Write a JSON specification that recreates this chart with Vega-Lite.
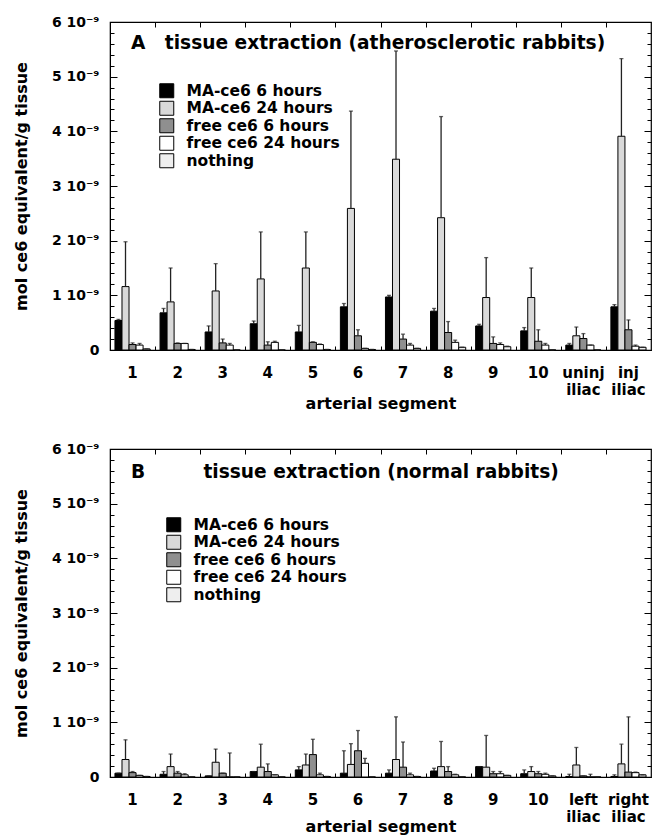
{
  "$schema": "https://vega.github.io/schema/vega-lite/v6.json",
  "padding": {"left": 12, "top": 14, "right": 5, "bottom": 5},
  "background": "white",
  "config": {
    "font": "DejaVu Sans",
    "view": {"stroke": "black", "strokeWidth": 1.2},
    "axis": {"grid": false, "labelColor": "black", "titleColor": "black", "domainColor": "black", "tickColor": "black", "labelFontWeight": "bold", "titleFontWeight": "bold", "labelFont": "DejaVu Sans", "titleFont": "DejaVu Sans"},
    "legend": {"labelFont": "DejaVu Sans"}
  },
  "datasets": {
    "A": [
      {"seg": "1", "series": "MA-ce6 6 hours", "v": 0.54e-9, "top": 0.56e-9},
      {"seg": "1", "series": "MA-ce6 24 hours", "v": 1.16e-9, "top": 1.98e-9},
      {"seg": "1", "series": "free ce6 6 hours", "v": 0.10e-9, "top": 0.13e-9},
      {"seg": "1", "series": "free ce6 24 hours", "v": 0.09e-9, "top": 0.12e-9},
      {"seg": "1", "series": "nothing", "v": 0.02e-9, "top": 0.02e-9},
      {"seg": "2", "series": "MA-ce6 6 hours", "v": 0.68e-9, "top": 0.76e-9},
      {"seg": "2", "series": "MA-ce6 24 hours", "v": 0.88e-9, "top": 1.50e-9},
      {"seg": "2", "series": "free ce6 6 hours", "v": 0.12e-9, "top": 0.13e-9},
      {"seg": "2", "series": "free ce6 24 hours", "v": 0.12e-9, "top": 0.12e-9},
      {"seg": "2", "series": "nothing", "v": 0.01e-9, "top": 0.01e-9},
      {"seg": "3", "series": "MA-ce6 6 hours", "v": 0.33e-9, "top": 0.44e-9},
      {"seg": "3", "series": "MA-ce6 24 hours", "v": 1.08e-9, "top": 1.58e-9},
      {"seg": "3", "series": "free ce6 6 hours", "v": 0.13e-9, "top": 0.20e-9},
      {"seg": "3", "series": "free ce6 24 hours", "v": 0.09e-9, "top": 0.12e-9},
      {"seg": "3", "series": "nothing", "v": 0.0, "top": 0.0},
      {"seg": "4", "series": "MA-ce6 6 hours", "v": 0.48e-9, "top": 0.53e-9},
      {"seg": "4", "series": "MA-ce6 24 hours", "v": 1.30e-9, "top": 2.16e-9},
      {"seg": "4", "series": "free ce6 6 hours", "v": 0.09e-9, "top": 0.15e-9},
      {"seg": "4", "series": "free ce6 24 hours", "v": 0.14e-9, "top": 0.16e-9},
      {"seg": "4", "series": "nothing", "v": 0.0, "top": 0.0},
      {"seg": "5", "series": "MA-ce6 6 hours", "v": 0.33e-9, "top": 0.45e-9},
      {"seg": "5", "series": "MA-ce6 24 hours", "v": 1.50e-9, "top": 2.16e-9},
      {"seg": "5", "series": "free ce6 6 hours", "v": 0.14e-9, "top": 0.15e-9},
      {"seg": "5", "series": "free ce6 24 hours", "v": 0.10e-9, "top": 0.11e-9},
      {"seg": "5", "series": "nothing", "v": 0.01e-9, "top": 0.01e-9},
      {"seg": "6", "series": "MA-ce6 6 hours", "v": 0.79e-9, "top": 0.85e-9},
      {"seg": "6", "series": "MA-ce6 24 hours", "v": 2.59e-9, "top": 4.37e-9},
      {"seg": "6", "series": "free ce6 6 hours", "v": 0.26e-9, "top": 0.37e-9},
      {"seg": "6", "series": "free ce6 24 hours", "v": 0.03e-9, "top": 0.03e-9},
      {"seg": "6", "series": "nothing", "v": 0.01e-9, "top": 0.01e-9},
      {"seg": "7", "series": "MA-ce6 6 hours", "v": 0.97e-9, "top": 1.00e-9},
      {"seg": "7", "series": "MA-ce6 24 hours", "v": 3.49e-9, "top": 5.47e-9},
      {"seg": "7", "series": "free ce6 6 hours", "v": 0.20e-9, "top": 0.29e-9},
      {"seg": "7", "series": "free ce6 24 hours", "v": 0.09e-9, "top": 0.12e-9},
      {"seg": "7", "series": "nothing", "v": 0.03e-9, "top": 0.03e-9},
      {"seg": "8", "series": "MA-ce6 6 hours", "v": 0.71e-9, "top": 0.76e-9},
      {"seg": "8", "series": "MA-ce6 24 hours", "v": 2.42e-9, "top": 4.27e-9},
      {"seg": "8", "series": "free ce6 6 hours", "v": 0.32e-9, "top": 0.52e-9},
      {"seg": "8", "series": "free ce6 24 hours", "v": 0.14e-9, "top": 0.18e-9},
      {"seg": "8", "series": "nothing", "v": 0.05e-9, "top": 0.05e-9},
      {"seg": "9", "series": "MA-ce6 6 hours", "v": 0.44e-9, "top": 0.47e-9},
      {"seg": "9", "series": "MA-ce6 24 hours", "v": 0.96e-9, "top": 1.69e-9},
      {"seg": "9", "series": "free ce6 6 hours", "v": 0.12e-9, "top": 0.24e-9},
      {"seg": "9", "series": "free ce6 24 hours", "v": 0.10e-9, "top": 0.13e-9},
      {"seg": "9", "series": "nothing", "v": 0.06e-9, "top": 0.07e-9},
      {"seg": "10", "series": "MA-ce6 6 hours", "v": 0.35e-9, "top": 0.41e-9},
      {"seg": "10", "series": "MA-ce6 24 hours", "v": 0.96e-9, "top": 1.50e-9},
      {"seg": "10", "series": "free ce6 6 hours", "v": 0.16e-9, "top": 0.37e-9},
      {"seg": "10", "series": "free ce6 24 hours", "v": 0.09e-9, "top": 0.12e-9},
      {"seg": "10", "series": "nothing", "v": 0.0, "top": 0.0},
      {"seg": "uninj iliac", "series": "MA-ce6 6 hours", "v": 0.09e-9, "top": 0.12e-9},
      {"seg": "uninj iliac", "series": "MA-ce6 24 hours", "v": 0.26e-9, "top": 0.42e-9},
      {"seg": "uninj iliac", "series": "free ce6 6 hours", "v": 0.21e-9, "top": 0.30e-9},
      {"seg": "uninj iliac", "series": "free ce6 24 hours", "v": 0.09e-9, "top": 0.09e-9},
      {"seg": "uninj iliac", "series": "nothing", "v": 0.0, "top": 0.0},
      {"seg": "inj iliac", "series": "MA-ce6 6 hours", "v": 0.79e-9, "top": 0.83e-9},
      {"seg": "inj iliac", "series": "MA-ce6 24 hours", "v": 3.91e-9, "top": 5.33e-9},
      {"seg": "inj iliac", "series": "free ce6 6 hours", "v": 0.37e-9, "top": 0.55e-9},
      {"seg": "inj iliac", "series": "free ce6 24 hours", "v": 0.07e-9, "top": 0.09e-9},
      {"seg": "inj iliac", "series": "nothing", "v": 0.05e-9, "top": 0.05e-9}
    ],
    "B": [
      {"seg": "1", "series": "MA-ce6 6 hours", "v": 0.07e-9, "top": 0.07e-9},
      {"seg": "1", "series": "MA-ce6 24 hours", "v": 0.32e-9, "top": 0.68e-9},
      {"seg": "1", "series": "free ce6 6 hours", "v": 0.08e-9, "top": 0.10e-9},
      {"seg": "1", "series": "free ce6 24 hours", "v": 0.03e-9, "top": 0.03e-9},
      {"seg": "1", "series": "nothing", "v": 0.01e-9, "top": 0.01e-9},
      {"seg": "2", "series": "MA-ce6 6 hours", "v": 0.05e-9, "top": 0.10e-9},
      {"seg": "2", "series": "MA-ce6 24 hours", "v": 0.19e-9, "top": 0.42e-9},
      {"seg": "2", "series": "free ce6 6 hours", "v": 0.07e-9, "top": 0.10e-9},
      {"seg": "2", "series": "free ce6 24 hours", "v": 0.04e-9, "top": 0.06e-9},
      {"seg": "2", "series": "nothing", "v": 0.0, "top": 0.0},
      {"seg": "3", "series": "MA-ce6 6 hours", "v": 0.02e-9, "top": 0.02e-9},
      {"seg": "3", "series": "MA-ce6 24 hours", "v": 0.27e-9, "top": 0.51e-9},
      {"seg": "3", "series": "free ce6 6 hours", "v": 0.07e-9, "top": 0.07e-9},
      {"seg": "3", "series": "free ce6 24 hours", "v": 0.0, "top": 0.44e-9},
      {"seg": "3", "series": "nothing", "v": 0.0, "top": 0.0},
      {"seg": "4", "series": "MA-ce6 6 hours", "v": 0.10e-9, "top": 0.10e-9},
      {"seg": "4", "series": "MA-ce6 24 hours", "v": 0.18e-9, "top": 0.60e-9},
      {"seg": "4", "series": "free ce6 6 hours", "v": 0.10e-9, "top": 0.24e-9},
      {"seg": "4", "series": "free ce6 24 hours", "v": 0.04e-9, "top": 0.04e-9},
      {"seg": "4", "series": "nothing", "v": 0.0, "top": 0.0},
      {"seg": "5", "series": "MA-ce6 6 hours", "v": 0.13e-9, "top": 0.19e-9},
      {"seg": "5", "series": "MA-ce6 24 hours", "v": 0.22e-9, "top": 0.42e-9},
      {"seg": "5", "series": "free ce6 6 hours", "v": 0.41e-9, "top": 0.69e-9},
      {"seg": "5", "series": "free ce6 24 hours", "v": 0.04e-9, "top": 0.07e-9},
      {"seg": "5", "series": "nothing", "v": 0.01e-9, "top": 0.01e-9},
      {"seg": "6", "series": "MA-ce6 6 hours", "v": 0.07e-9, "top": 0.48e-9},
      {"seg": "6", "series": "MA-ce6 24 hours", "v": 0.23e-9, "top": 0.61e-9},
      {"seg": "6", "series": "free ce6 6 hours", "v": 0.48e-9, "top": 0.85e-9},
      {"seg": "6", "series": "free ce6 24 hours", "v": 0.25e-9, "top": 0.34e-9},
      {"seg": "6", "series": "nothing", "v": 0.0, "top": 0.0},
      {"seg": "7", "series": "MA-ce6 6 hours", "v": 0.07e-9, "top": 0.13e-9},
      {"seg": "7", "series": "MA-ce6 24 hours", "v": 0.32e-9, "top": 1.10e-9},
      {"seg": "7", "series": "free ce6 6 hours", "v": 0.18e-9, "top": 0.64e-9},
      {"seg": "7", "series": "free ce6 24 hours", "v": 0.04e-9, "top": 0.07e-9},
      {"seg": "7", "series": "nothing", "v": 0.01e-9, "top": 0.01e-9},
      {"seg": "8", "series": "MA-ce6 6 hours", "v": 0.11e-9, "top": 0.16e-9},
      {"seg": "8", "series": "MA-ce6 24 hours", "v": 0.19e-9, "top": 0.65e-9},
      {"seg": "8", "series": "free ce6 6 hours", "v": 0.10e-9, "top": 0.19e-9},
      {"seg": "8", "series": "free ce6 24 hours", "v": 0.04e-9, "top": 0.05e-9},
      {"seg": "8", "series": "nothing", "v": 0.0, "top": 0.0},
      {"seg": "9", "series": "MA-ce6 6 hours", "v": 0.19e-9, "top": 0.19e-9},
      {"seg": "9", "series": "MA-ce6 24 hours", "v": 0.18e-9, "top": 0.76e-9},
      {"seg": "9", "series": "free ce6 6 hours", "v": 0.06e-9, "top": 0.10e-9},
      {"seg": "9", "series": "free ce6 24 hours", "v": 0.06e-9, "top": 0.10e-9},
      {"seg": "9", "series": "nothing", "v": 0.03e-9, "top": 0.03e-9},
      {"seg": "10", "series": "MA-ce6 6 hours", "v": 0.06e-9, "top": 0.13e-9},
      {"seg": "10", "series": "MA-ce6 24 hours", "v": 0.10e-9, "top": 0.19e-9},
      {"seg": "10", "series": "free ce6 6 hours", "v": 0.06e-9, "top": 0.10e-9},
      {"seg": "10", "series": "free ce6 24 hours", "v": 0.05e-9, "top": 0.07e-9},
      {"seg": "10", "series": "nothing", "v": 0.02e-9, "top": 0.02e-9},
      {"seg": "left iliac", "series": "MA-ce6 6 hours", "v": 0.01e-9, "top": 0.05e-9},
      {"seg": "left iliac", "series": "MA-ce6 24 hours", "v": 0.22e-9, "top": 0.54e-9},
      {"seg": "left iliac", "series": "free ce6 6 hours", "v": 0.02e-9, "top": 0.02e-9},
      {"seg": "left iliac", "series": "free ce6 24 hours", "v": 0.0, "top": 0.05e-9},
      {"seg": "left iliac", "series": "nothing", "v": 0.0, "top": 0.0},
      {"seg": "right iliac", "series": "MA-ce6 6 hours", "v": 0.01e-9, "top": 0.04e-9},
      {"seg": "right iliac", "series": "MA-ce6 24 hours", "v": 0.24e-9, "top": 0.60e-9},
      {"seg": "right iliac", "series": "free ce6 6 hours", "v": 0.09e-9, "top": 1.10e-9},
      {"seg": "right iliac", "series": "free ce6 24 hours", "v": 0.08e-9, "top": 0.09e-9},
      {"seg": "right iliac", "series": "nothing", "v": 0.04e-9, "top": 0.04e-9}
    ]
  },
  "vconcat": [
    {
      "width": 541,
      "height": 328,
      "data": {"name": "A"},
      "title": {"text": "A\u00a0\u00a0\u00a0tissue extraction (atherosclerotic rabbits)", "anchor": "start", "frame": "group", "dx": 21, "offset": -53, "baseline": "alphabetic", "fontSize": 18.6, "fontWeight": "bold", "font": "DejaVu Sans", "color": "black"},
      "layer": [
        {
          "mark": {"type": "bar", "stroke": "black", "strokeWidth": 1},
          "encoding": {
            "x": {"field": "seg", "type": "nominal", "sort": ["1","2","3","4","5","6","7","8","9","10","uninj iliac","inj iliac"], "scale": {"paddingInner": 0.22, "paddingOuter": 0.11}, "axis": {"orient": "bottom", "title": "arterial segment", "titleFontSize": 16, "titleY": 58, "titleBaseline": "alphabetic", "labelFontSize": 15, "labelAngle": 0, "ticks": false, "labelPadding": 15, "labelExpr": "split(datum.label, ' ')", "labelLineHeight": 17}},
            "xOffset": {"field": "series", "type": "nominal", "sort": ["MA-ce6 6 hours","MA-ce6 24 hours","free ce6 6 hours","free ce6 24 hours","nothing"], "scale": {"paddingInner": 0, "paddingOuter": 0}},
            "y": {"field": "v", "type": "quantitative", "scale": {"domain": [0, 6e-9], "nice": false, "zero": true}, "axis": {"orient": "left", "title": "mol ce6 equivalent/g tissue", "titleFontSize": 16, "titleX": -84, "titleBaseline": "alphabetic", "labelFontSize": 14, "labelPadding": 18, "values": [0,0.2e-9,0.4e-9,0.6e-9,0.8e-9,1e-9,1.2e-9,1.4e-9,1.6e-9,1.8e-9,2e-9,2.2e-9,2.4e-9,2.6e-9,2.8e-9,3e-9,3.2e-9,3.4e-9,3.6e-9,3.8e-9,4e-9,4.2e-9,4.4e-9,4.6e-9,4.8e-9,5e-9,5.2e-9,5.4e-9,5.6e-9,5.8e-9,6e-9], "labelExpr": "datum.value < 1e-12 ? '0' : (abs(datum.value*1e9 - round(datum.value*1e9)) < 1e-6 ? format(round(datum.value*1e9), 'd') + ' 10⁻⁹' : '')", "tickSize": {"condition": {"test": "abs(datum.value*1e9 - round(datum.value*1e9)) < 1e-6", "value": -7}, "value": -4}}},
            "fill": {"field": "series", "type": "nominal", "scale": {"domain": ["MA-ce6 6 hours","MA-ce6 24 hours","free ce6 6 hours","free ce6 24 hours","nothing"], "range": ["black","#d9d9d9","#8f8f8f","white","#eeeeee"]}, "legend": {"orient": "none", "legendX": 49, "legendY": 61, "title": null, "symbolType": "square", "symbolSize": 196, "symbolStrokeColor": "black", "symbolStrokeWidth": 1, "symbolOpacity": 1, "labelFontSize": 15.5, "labelFontWeight": "bold", "labelColor": "black", "labelOffset": 12, "rowPadding": -1.5, "padding": 0}}
          }
        },
        {
          "mark": {"type": "rule", "stroke": "#222", "strokeWidth": 1.3},
          "encoding": {
            "x": {"field": "seg", "type": "nominal", "sort": ["1","2","3","4","5","6","7","8","9","10","uninj iliac","inj iliac"], "axis": {"orient": "bottom", "title": null, "labels": false, "domain": false, "tickSize": -4, "tickOffset": -22.5, "minExtent": 0, "maxExtent": 0, "labelPadding": 0}},
            "xOffset": {"field": "series", "type": "nominal", "sort": ["MA-ce6 6 hours","MA-ce6 24 hours","free ce6 6 hours","free ce6 24 hours","nothing"]},
            "y": {"field": "v", "type": "quantitative", "axis": {"orient": "right", "title": null, "labels": false, "domain": false, "values": [0,0.2e-9,0.4e-9,0.6e-9,0.8e-9,1e-9,1.2e-9,1.4e-9,1.6e-9,1.8e-9,2e-9,2.2e-9,2.4e-9,2.6e-9,2.8e-9,3e-9,3.2e-9,3.4e-9,3.6e-9,3.8e-9,4e-9,4.2e-9,4.4e-9,4.6e-9,4.8e-9,5e-9,5.2e-9,5.4e-9,5.6e-9,5.8e-9,6e-9], "tickSize": {"condition": {"test": "abs(datum.value*1e9 - round(datum.value*1e9)) < 1e-6", "value": -7}, "value": -4}}},
            "y2": {"field": "top"}
          }
        },
        {
          "mark": {"type": "tick", "orient": "horizontal", "size": 4, "thickness": 1.3, "color": "#222"},
          "encoding": {
            "x": {"field": "seg", "type": "nominal", "sort": ["1","2","3","4","5","6","7","8","9","10","uninj iliac","inj iliac"], "axis": {"orient": "top", "title": null, "labels": false, "domain": false, "tickSize": -5, "tickOffset": -22.5, "minExtent": 0, "maxExtent": 0, "labelPadding": 0}},
            "xOffset": {"field": "series", "type": "nominal", "sort": ["MA-ce6 6 hours","MA-ce6 24 hours","free ce6 6 hours","free ce6 24 hours","nothing"]},
            "y": {"field": "top", "type": "quantitative", "axis": null}
          }
        }
      ],
      "resolve": {"axis": {"x": "independent", "y": "independent"}}
    },
    {
      "width": 541,
      "height": 328,
      "data": {"name": "B"},
      "title": {"text": "B\u00a0\u00a0\u00a0\u00a0\u00a0\u00a0\u00a0\u00a0\u00a0tissue extraction (normal rabbits)", "anchor": "start", "frame": "group", "dx": 21, "offset": -55, "baseline": "alphabetic", "fontSize": 18.6, "fontWeight": "bold", "font": "DejaVu Sans", "color": "black"},
      "layer": [
        {
          "mark": {"type": "bar", "stroke": "black", "strokeWidth": 1},
          "encoding": {
            "x": {"field": "seg", "type": "nominal", "sort": ["1","2","3","4","5","6","7","8","9","10","left iliac","right iliac"], "scale": {"paddingInner": 0.22, "paddingOuter": 0.11}, "axis": {"orient": "bottom", "title": "arterial segment", "titleFontSize": 16, "titleY": 54, "titleBaseline": "alphabetic", "labelFontSize": 15, "labelAngle": 0, "ticks": false, "labelPadding": 15, "labelExpr": "split(datum.label, ' ')", "labelLineHeight": 17}},
            "xOffset": {"field": "series", "type": "nominal", "sort": ["MA-ce6 6 hours","MA-ce6 24 hours","free ce6 6 hours","free ce6 24 hours","nothing"], "scale": {"paddingInner": 0, "paddingOuter": 0}},
            "y": {"field": "v", "type": "quantitative", "scale": {"domain": [0, 6e-9], "nice": false, "zero": true}, "axis": {"orient": "left", "title": "mol ce6 equivalent/g tissue", "titleFontSize": 16, "titleX": -84, "titleBaseline": "alphabetic", "labelFontSize": 14, "labelPadding": 18, "values": [0,0.2e-9,0.4e-9,0.6e-9,0.8e-9,1e-9,1.2e-9,1.4e-9,1.6e-9,1.8e-9,2e-9,2.2e-9,2.4e-9,2.6e-9,2.8e-9,3e-9,3.2e-9,3.4e-9,3.6e-9,3.8e-9,4e-9,4.2e-9,4.4e-9,4.6e-9,4.8e-9,5e-9,5.2e-9,5.4e-9,5.6e-9,5.8e-9,6e-9], "labelExpr": "datum.value < 1e-12 ? '0' : (abs(datum.value*1e9 - round(datum.value*1e9)) < 1e-6 ? format(round(datum.value*1e9), 'd') + ' 10⁻⁹' : '')", "tickSize": {"condition": {"test": "abs(datum.value*1e9 - round(datum.value*1e9)) < 1e-6", "value": -7}, "value": -4}}},
            "fill": {"field": "series", "type": "nominal", "scale": {"domain": ["MA-ce6 6 hours","MA-ce6 24 hours","free ce6 6 hours","free ce6 24 hours","nothing"], "range": ["black","#d9d9d9","#8f8f8f","white","#eeeeee"]}, "legend": {"orient": "none", "legendX": 56, "legendY": 68, "title": null, "symbolType": "square", "symbolSize": 196, "symbolStrokeColor": "black", "symbolStrokeWidth": 1, "symbolOpacity": 1, "labelFontSize": 15.5, "labelFontWeight": "bold", "labelColor": "black", "labelOffset": 12, "rowPadding": -1.5, "padding": 0}}
          }
        },
        {
          "mark": {"type": "rule", "stroke": "#222", "strokeWidth": 1.3},
          "encoding": {
            "x": {"field": "seg", "type": "nominal", "sort": ["1","2","3","4","5","6","7","8","9","10","left iliac","right iliac"], "axis": {"orient": "bottom", "title": null, "labels": false, "domain": false, "tickSize": -4, "tickOffset": -22.5, "minExtent": 0, "maxExtent": 0, "labelPadding": 0}},
            "xOffset": {"field": "series", "type": "nominal", "sort": ["MA-ce6 6 hours","MA-ce6 24 hours","free ce6 6 hours","free ce6 24 hours","nothing"]},
            "y": {"field": "v", "type": "quantitative", "axis": {"orient": "right", "title": null, "labels": false, "domain": false, "values": [0,0.2e-9,0.4e-9,0.6e-9,0.8e-9,1e-9,1.2e-9,1.4e-9,1.6e-9,1.8e-9,2e-9,2.2e-9,2.4e-9,2.6e-9,2.8e-9,3e-9,3.2e-9,3.4e-9,3.6e-9,3.8e-9,4e-9,4.2e-9,4.4e-9,4.6e-9,4.8e-9,5e-9,5.2e-9,5.4e-9,5.6e-9,5.8e-9,6e-9], "tickSize": {"condition": {"test": "abs(datum.value*1e9 - round(datum.value*1e9)) < 1e-6", "value": -7}, "value": -4}}},
            "y2": {"field": "top"}
          }
        },
        {
          "mark": {"type": "tick", "orient": "horizontal", "size": 4, "thickness": 1.3, "color": "#222"},
          "encoding": {
            "x": {"field": "seg", "type": "nominal", "sort": ["1","2","3","4","5","6","7","8","9","10","left iliac","right iliac"], "axis": {"orient": "top", "title": null, "labels": false, "domain": false, "tickSize": -5, "tickOffset": -22.5, "minExtent": 0, "maxExtent": 0, "labelPadding": 0}},
            "xOffset": {"field": "series", "type": "nominal", "sort": ["MA-ce6 6 hours","MA-ce6 24 hours","free ce6 6 hours","free ce6 24 hours","nothing"]},
            "y": {"field": "top", "type": "quantitative", "axis": null}
          }
        }
      ],
      "resolve": {"axis": {"x": "independent", "y": "independent"}}
    }
  ],
  "spacing": 99,
  "bounds": "flush",
  "resolve": {"scale": {"fill": "independent"}}
}
